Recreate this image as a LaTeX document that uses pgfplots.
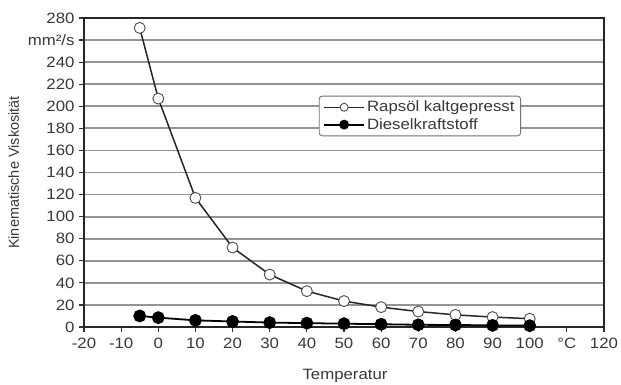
\documentclass[border=0pt]{standalone}
\usepackage{fontspec}
\setmainfont{Liberation Sans}[FakeStretch=1.12]
\newfontfamily\ylfont{Liberation Sans}
\usepackage{pgfplots}
\pgfplotsset{compat=1.18}
\begin{document}
\begin{tikzpicture}
\path[use as bounding box] (-84pt,-58pt) rectangle (537pt,327pt);
\begin{axis}[
  at={(0pt,0pt)}, anchor=south west,
  scale only axis,
  width=520pt, height=309pt,
  xmin=-20, xmax=120, ymin=0, ymax=280,
  xtick={-20,-10,...,120},
  xticklabels={-20,-10,0,10,20,30,40,50,60,70,80,90,100,°C,120},
  ytick={0,20,...,280},
  yticklabels={0,20,40,60,80,100,120,140,160,180,200,220,240,mm²/s,280},
  tick pos=left,
  tick align=outside,
  major tick length=5pt,
  tick style={black!80, line width=1.2pt},
  ymajorgrids,
  major grid style={black!42, line width=1.8pt},
  axis line style={black!85, line width=1.6pt},
  ticklabel style={font=\fontsize{15}{17}\selectfont, text=black!78},
  yticklabel style={xshift=-1pt},
  xticklabel style={yshift=-2pt},
  /pgf/number format/assume math mode=true,
  xlabel={Temperatur},
  ylabel={\ylfont Kinematische Viskosität},
  xlabel style={font=\fontsize{15}{17}\selectfont, text=black!78, at={(axis description cs:0.502,-0.158)}, anchor=center},
  ylabel style={font=\fontsize{14.5}{17}\selectfont, text=black!78, at={(axis description cs:-0.135,0.5)}, anchor=center},
  legend style={at={(axis description cs:0.646,0.683)}, anchor=center, draw=black!55, rounded corners=3pt,
    font=\fontsize{15}{17}\selectfont, text=black!78, line width=0.9pt,
    row sep=1pt, inner xsep=4pt, inner ysep=3pt},
  legend cell align=left,
  legend image code/.code={\draw[mark repeat=2,mark phase=2,#1,mark size=4pt] plot coordinates {(0pt,0pt)(20pt,0pt)(40pt,0pt)};},
]
\addplot[black!85, line width=1.5pt, mark=*, mark size=5.5pt,
  mark options={fill=white, draw=black!70, line width=0.9pt}]
coordinates {(-5,271)(0,207)(10,117)(20,72)(30,47.5)(40,32.5)(50,23.5)(60,18)(70,14)(80,11)(90,9)(100,7.5)};
\addlegendentry{Rapsöl kaltgepresst}
\addplot[black, line width=1.8pt, mark=*, mark size=5.5pt,
  mark options={fill=black, draw=black}]
coordinates {(-5,10)(0,8.5)(10,6)(20,5)(30,4)(40,3.5)(50,3)(60,2.5)(70,2)(80,1.8)(90,1.5)(100,1.2)};
\addlegendentry{Dieselkraftstoff}
\end{axis}
\end{tikzpicture}
\end{document}
